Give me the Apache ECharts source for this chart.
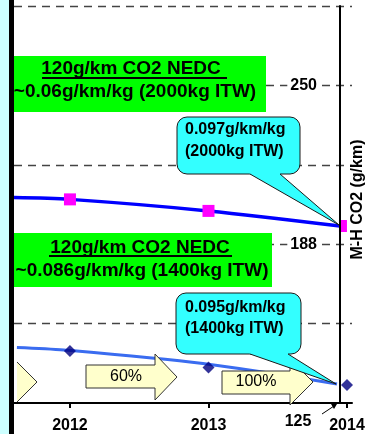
<!DOCTYPE html>
<html><head><meta charset="utf-8">
<script src="https://cdn.jsdelivr.net/npm/echarts@6/dist/echarts.min.js"></script>
<style>html,body{margin:0;padding:0;background:#fff;}#c{width:367px;height:434px;}</style>
</head><body><div id="c"></div>
<script>
// ---- data ----
const years = [2012, 2013, 2014];
const yAxisLabels = [188, 250];
const gridValues = [157, 188, 219, 250, 281];
const bottomLabel = '125';
const axisName = 'M-H CO2 (g/km)';
// upper curve (blue line, magenta squares)
const upperX = [2011.596, 2012, 2013, 2013.949];
const upperY = [206.2, 205.5, 201.0, 195.1];
// lower light-blue curve
const lowerX = [2011.617, 2011.957, 2012.96, 2013.928];
const lowerY = [147.7, 146.7, 141.4, 133.4];
// navy diamonds
const diamondY = [146.3, 139.9, 133.0];
// annotation texts
const box1 = ['120g/km CO2 NEDC', '~0.06g/km/kg (2000kg ITW)'];
const box2 = ['120g/km CO2 NEDC', '~0.086g/km/kg (1400kg ITW)'];
const call1 = ['0.097g/km/kg', '(2000kg ITW)'];
const call2 = ['0.095g/km/kg', '(1400kg ITW)'];
const arrowLabels = ['60%', '100%'];

const FF = '"Liberation Sans", Arial, sans-serif';
const Y_MIN = 126, Y_MAX = 281;

const chart = echarts.init(document.getElementById('c'), null, {renderer: 'canvas'});

const lastIdx = upperX.length - 1;
const upperData = upperX.map((x, i) => {
  if (i === 0) return {value: [x, upperY[i]], symbol: 'none'};
  if (i === lastIdx) return {value: [x, upperY[i]], symbolSize: [8, 12], symbolOffset: [3, 0]};
  return [x, upperY[i]];
});
const lowerData = lowerX.map((x, i) => [x, lowerY[i]]);
const diamondData = years.map((x, i) => [x, diamondY[i]]);
const drops = lowerX.slice(1).map((x, i) => [{coord: [x, lowerY[i + 1]]}, {coord: [x, 124]}]);

function txt(text, x, y, font, align) {
  return {type: 'text', z: 100, style: {text, x, y, font, fill: '#000', align: align || 'center', verticalAlign: 'middle', textAlign: align || 'center', textVerticalAlign: 'middle'}};
}
function callout(x, y, w, h, b1, b2, tx, ty) {
  const by = y + h;
  return [
    {type: 'rect', z: 100, shape: {x, y, width: w, height: h, r: 10}, style: {fill: '#33ffff', stroke: '#1a1a1a', lineWidth: 1}},
    {type: 'polygon', z: 101, shape: {points: [[b1 - 1, by - 4], [b1, by], [tx, ty], [b2, by], [b2 + 1, by - 4]]}, style: {fill: '#33ffff'}},
    {type: 'polyline', z: 102, shape: {points: [[b1, by], [tx, ty], [b2, by]]}, style: {fill: null, stroke: '#1a1a1a', lineWidth: 1}}
  ];
}
const bold19 = 'bold 19px ' + FF;
const bold16 = 'bold 16px ' + FF;
const reg16 = '16px ' + FF;

const graphics = [
  // green boxes
  {type: 'rect', z: 100, shape: {x: 14, y: 56, width: 252, height: 56}, style: {fill: '#00ff00'}},
  txt(box1[0], 131, 69, bold19),
  {type: 'line', z: 100, shape: {x1: 42, y1: 78, x2: 227, y2: 78}, style: {stroke: '#000', lineWidth: 2}},
  txt(box1[1], 135, 92, bold19),
  {type: 'rect', z: 100, shape: {x: 14, y: 233, width: 258, height: 54}, style: {fill: '#00ff00'}},
  txt(box2[0], 140, 248, bold19),
  {type: 'line', z: 100, shape: {x1: 49, y1: 256, x2: 232, y2: 256}, style: {stroke: '#000', lineWidth: 2}},
  txt(box2[1], 142, 271, bold19),
  // callouts
  ...callout(177, 117, 123, 57, 250, 280, 339, 225),
  txt(call1[0], 185, 130, bold16, 'left'),
  txt(call1[1], 185, 152, bold16, 'left'),
  ...callout(176, 293, 125, 61, 250, 288, 336, 384),
  txt(call2[0], 185, 308, bold16, 'left'),
  txt(call2[1], 185, 329, bold16, 'left'),
  // block arrows
  {type: 'polygon', z: 100, shape: {points: [[17, 362], [37, 382], [17, 402]]}, style: {fill: '#ffffcc'}},
  {type: 'polyline', z: 100, shape: {points: [[17, 362], [37, 382], [17, 402]]}, style: {fill: null, stroke: '#333', lineWidth: 1}},
  {type: 'polygon', z: 100, shape: {points: [[86, 365], [155, 365], [155, 354], [177, 377], [155, 400], [155, 388], [86, 388]]}, style: {fill: '#ffffcc', stroke: '#333', lineWidth: 1}},
  txt(arrowLabels[0], 126, 377, reg16),
  {type: 'polygon', z: 100, shape: {points: [[222, 371], [290, 371], [290, 359], [313, 382], [290, 405], [290, 394], [222, 394]]}, style: {fill: '#ffffcc', stroke: '#333', lineWidth: 1}},
  txt(arrowLabels[1], 256, 382, reg16),
  // bottom value label and pointer
  txt(bottomLabel, 298, 422, bold16),
  {type: 'line', z: 100, shape: {x1: 322, y1: 414, x2: 334, y2: 406}, style: {stroke: '#000', lineWidth: 1}},
  {type: 'polygon', z: 100, shape: {points: [[337, 404], [331, 404], [334, 409]]}, style: {fill: '#000'}},
  // left strip
  {type: 'rect', z: 110, shape: {x: 0, y: 0, width: 9, height: 434}, style: {fill: '#ccffff'}},
  {type: 'rect', z: 110, shape: {x: 9, y: 0, width: 5, height: 434}, style: {fill: '#000'}}
];

chart.setOption({
  animation: false,
  backgroundColor: '#fff',
  grid: {left: 14, right: 15, top: 6, bottom: 31, containLabel: false, outerBoundsMode: 'none'},
  xAxis: {
    type: 'value', min: 2011.596, max: 2014.036,
    axisLine: {lineStyle: {color: '#000', width: 2}},
    axisTick: {customValues: years, length: 5, lineStyle: {color: '#000', width: 2}},
    axisLabel: {customValues: years, formatter: v => String(Math.round(v)), color: '#000', fontSize: 16, fontWeight: 'bold', fontFamily: FF, margin: 15},
    splitLine: {show: false}
  },
  yAxis: {
    type: 'value', position: 'right', offset: -12, min: Y_MIN, max: Y_MAX, z: 10,
    axisLine: {show: true, lineStyle: {color: '#000', width: 2}},
    axisTick: {show: false},
    splitLine: {show: false},
    axisLabel: {customValues: yAxisLabels, inside: true, margin: 20, color: '#000', fontSize: 16, fontWeight: 'bold', fontFamily: FF, backgroundColor: '#fff', padding: [0, 3]},
    name: axisName, nameLocation: 'middle', nameRotate: 90, nameGap: 10,
    nameTextStyle: {color: '#000', fontSize: 16, fontWeight: 'bold', fontFamily: FF, padding: [0, 0, 0, 10]}
  },
  series: [
    {
      type: 'line', data: upperData, smooth: 0.3, symbol: 'rect', symbolSize: 12,
      itemStyle: {color: '#ff00ff'}, lineStyle: {color: '#0000ff', width: 3.5},
      z: 4,
      markLine: {
        silent: true, symbol: ['none', 'none'], label: {show: false},
        lineStyle: {color: '#444', type: [8, 6], width: 1.3},
        data: gridValues.map(v => ({yAxis: v}))
      }
    },
    {
      type: 'line', data: lowerData, smooth: 0.3, showSymbol: false,
      lineStyle: {color: '#3a6cf0', width: 3}, z: 3,
      markLine: {
        silent: true, symbol: ['none', 'none'], label: {show: false},
        lineStyle: {color: '#ff0000', type: [8, 5], width: 2},
        data: drops
      }
    },
    {
      type: 'scatter', data: diamondData, symbol: 'diamond', symbolSize: 12,
      itemStyle: {color: '#000080'}, z: 5
    }
  ],
  graphic: {elements: graphics}
});
</script>
</body></html>
